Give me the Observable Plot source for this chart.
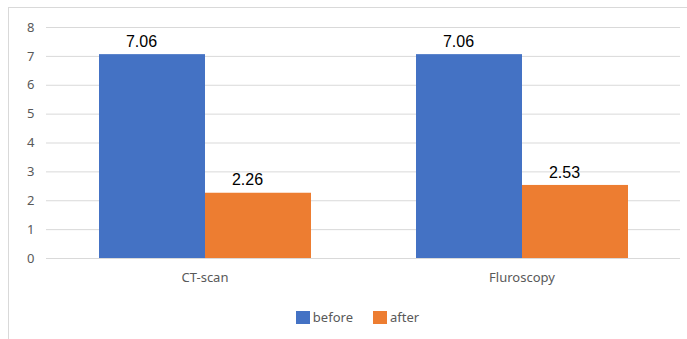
<!DOCTYPE html>
<html>
<head>
<meta charset="utf-8">
<script src="https://cdn.jsdelivr.net/npm/d3@7"></script>
<script src="https://cdn.jsdelivr.net/npm/@observablehq/plot@0.6"></script>
<style>
  html, body { margin: 0; padding: 0; background: #fff; overflow: hidden; }
  #wrap { position: relative; width: 687px; height: 339px; overflow: hidden; }
  #frame { position: absolute; left: 8px; top: 7px; width: 720px; height: 400px; border: 1px solid #d9d9d9; box-sizing: border-box; pointer-events: none; }
  #chart { position: absolute; left: 0; top: 0; }
  #legend { position: absolute; left: 35px; right: 7px; top: 310px; height: 14px; display: flex; justify-content: center; align-items: center; gap: 20px; font-family: "Noto Sans", "Open Sans", sans-serif; font-size: 13px; color: #595959; }
  .item { display: flex; align-items: center; gap: 3px; }
  .sw { width: 14px; height: 13px; display: inline-block; }
</style>
</head>
<body>
<div id="wrap">
  <div id="frame"></div>
  <div id="chart"></div>
  <div id="legend"></div>
</div>
<script>
const categories = ["CT-scan", "Fluroscopy"];
const series = ["before", "after"];
const beforeValues = [7.06, 7.06];
const afterValues = [2.26, 2.53];
const yTicks = [0, 1, 2, 3, 4, 5, 6, 7, 8];
const colors = ["#4472C4", "#ED7D31"];

const data = [];
categories.forEach((c, i) => {
  data.push({category: c, series: "before", value: beforeValues[i]});
  data.push({category: c, series: "after", value: afterValues[i]});
});

const chart = Plot.plot({
  width: 687,
  height: 300,
  marginLeft: 45,
  marginRight: 7,
  marginTop: 27,
  marginBottom: 42,
  style: {fontFamily: "'Noto Sans', 'Open Sans', sans-serif", fontSize: "13px", color: "#595959", background: "transparent"},
  fx: {domain: categories, padding: 0, label: null},
  x: {domain: series, paddingInner: 0, paddingOuter: 0.49, axis: null},
  y: {domain: [0, 8], label: null},
  color: {domain: series, range: colors},
  marks: [
    Plot.gridY(yTicks, {stroke: "#d9d9d9", strokeOpacity: 1, strokeWidth: 1}),
    Plot.axisY(yTicks, {tickSize: 0, tickPadding: 12, label: null, fill: "#595959", fontSize: 13}),
    Plot.barY(data, {fx: "category", x: "series", y: "value", fill: "series"}),
    Plot.text(data, {fx: "category", x: "series", y: "value", text: d => d.value.toFixed(2), dy: -13, dx: -11, fill: "#000", fontSize: 16, fontFamily: "'Liberation Sans', Arial, sans-serif"}),
    Plot.axisFx({anchor: "bottom", tickSize: 0, tickPadding: 14, label: null, fill: "#595959", fontSize: 13})
  ]
});
document.getElementById("chart").appendChild(chart);

const legend = document.getElementById("legend");
series.forEach((s, i) => {
  const item = document.createElement("div");
  item.className = "item";
  const sw = document.createElement("span");
  sw.className = "sw";
  sw.style.background = colors[i];
  const t = document.createElement("span");
  t.textContent = s;
  item.appendChild(sw);
  item.appendChild(t);
  legend.appendChild(item);
});
</script>
</body>
</html>
